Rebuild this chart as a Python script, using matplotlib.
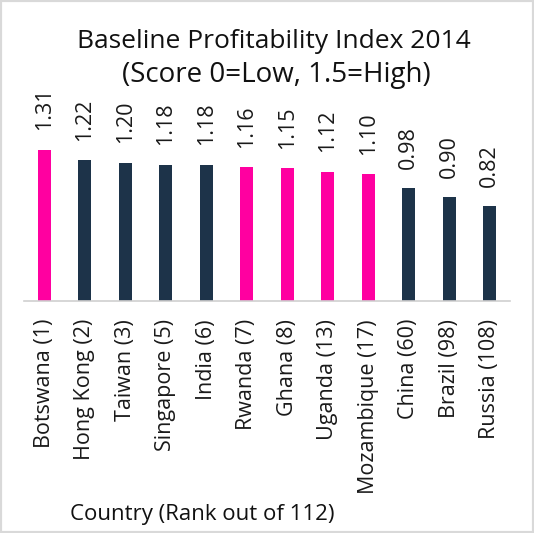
import matplotlib
matplotlib.use("Agg")
import matplotlib.pyplot as plt
from matplotlib.patches import Rectangle

countries = ["Botswana (1)", "Hong Kong (2)", "Taiwan (3)", "Singapore (5)", "India (6)",
             "Rwanda (7)", "Ghana (8)", "Uganda (13)", "Mozambique (17)", "China (60)",
             "Brazil (98)", "Russia (108)"]
scores = [1.31, 1.22, 1.20, 1.18, 1.18, 1.16, 1.15, 1.12, 1.10, 0.98, 0.90, 0.82]
highlight = [True, False, False, False, False, True, True, True, True, False, False, False]

PINK = "#FF00A0"
NAVY = "#1D3349"

plt.rcParams['font.family'] = ['Open Sans', 'DejaVu Sans']

fig = plt.figure(figsize=(5.34, 5.33), dpi=100)
fig.patch.set_facecolor("white")

ax = fig.add_axes([24/534, 232/533, 486/534, 173/533])
colors = [PINK if h else NAVY for h in highlight]
x = list(range(len(countries)))
bars = ax.bar(x, scores, width=0.32, color=colors)
ax.set_xlim(-0.5, len(countries) - 0.5)
ax.set_ylim(0, 1.5)

for xi, v in zip(x, scores):
    ax.annotate(f"{v:.2f}", (xi, v), xytext=(0, 14), textcoords="offset points",
                rotation=90, ha="center", va="bottom", fontsize=15.5,
                color="#1a1a1a", annotation_clip=False)

ax.set_xticks(x)
ax.set_xticklabels(countries, rotation=90, fontsize=15.5, color="#1a1a1a")
ax.tick_params(axis="x", length=0, pad=13)
ax.set_yticks([])
for s in ["top", "right", "left"]:
    ax.spines[s].set_visible(False)
ax.spines["bottom"].set_color("#d0d0d0")
ax.spines["bottom"].set_linewidth(1.2)

fig.text(274/534, 1 - 48/533, "Baseline Profitability Index 2014", ha="center",
         va="baseline", fontsize=19, color="#111111")
fig.text(276/534, 1 - 82/533, "(Score 0=Low, 1.5=High)", ha="center",
         va="baseline", fontsize=20, color="#111111")
fig.text(70/534, 1 - 520/533, "Country (Rank out of 112)", ha="left",
         va="baseline", fontsize=16, color="#111111")

fig.patches.append(Rectangle((0, 0), 1, 1, transform=fig.transFigure, fill=False,
                             edgecolor="#d9d9d9", linewidth=3, zorder=10))

fig.savefig("out.png", dpi=100, facecolor="white")
